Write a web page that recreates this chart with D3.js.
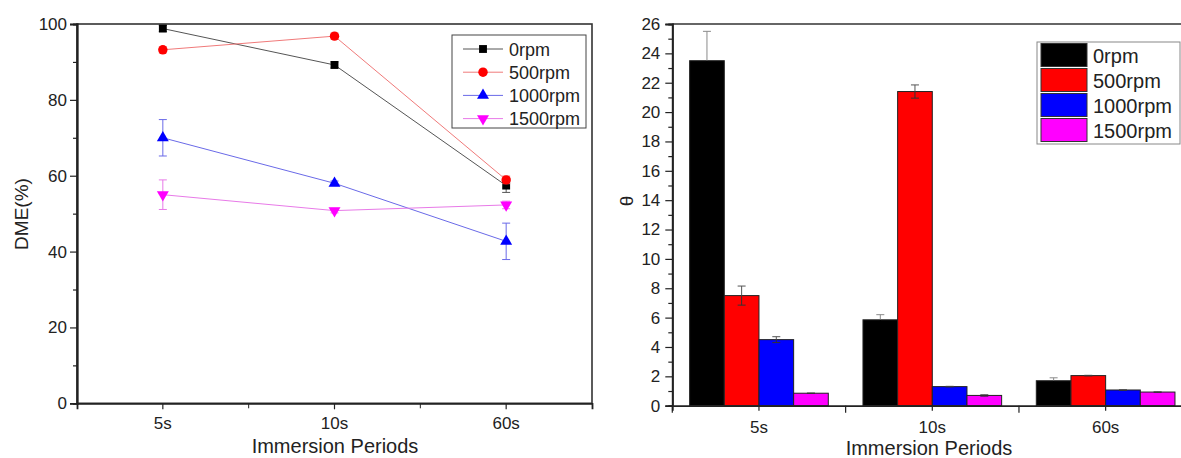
<!DOCTYPE html>
<html lang="en">
<head>
<meta charset="utf-8">
<title>DME and theta vs immersion periods</title>
<script src="https://d3js.org/d3.v7.min.js"></script>
<style>
  body { margin: 0; background: #fff; }
  svg text { font-family: "Liberation Sans", Arial, sans-serif; fill: #222; }
</style>
</head>
<body>
<script>
// categories
var periods = ["5s", "10s", "60s"];
var speeds = ["0rpm", "500rpm", "1000rpm", "1500rpm"];

// left chart: DME(%) with error
var dme0 = [98.8, 89.2, 57.4];
var dme500 = [93.2, 96.8, 58.9];
var dme1000 = [70.0, 58.0, 42.7];
var dme1500 = [55.0, 50.8, 52.3];
var dmeErr0 = [0.8, 0.8, 1.8];
var dmeErr500 = [0.8, 0.8, 1.0];
var dmeErr1000 = [4.8, 0.6, 4.8];
var dmeErr1500 = [3.9, 0.6, 1.0];

// right chart: theta with error
var theta0 = [23.5, 5.85, 1.7];
var theta500 = [7.5, 21.4, 2.05];
var theta1000 = [4.5, 1.3, 1.07];
var theta1500 = [0.85, 0.7, 0.93];
var thetaErr0 = [2.0, 0.35, 0.2];
var thetaErr500 = [0.65, 0.45, 0.02];
var thetaErr1000 = [0.2, 0.02, 0.02];
var thetaErr1500 = [0.02, 0.05, 0.02];

var dmeTicks = [0, 20, 40, 60, 80, 100];
var thetaTicks = [0, 2, 4, 6, 8, 10, 12, 14, 16, 18, 20, 22, 24, 26];

var W = 1181, H = 458;
var svg = d3.select("body").append("svg")
    .attr("width", W).attr("height", H);

// ---------------- left chart ----------------
var lineColors = ["#555", "#f07a7a", "#6a6ae8", "#e87ae8"];
var markColors = ["#000", "#ff0000", "#0000ff", "#ff00ff"];
var symbols = [d3.symbolSquare, d3.symbolCircle, d3.symbolTriangle, d3.symbolTriangle];

var dmeSeries = [dme0, dme500, dme1000, dme1500];
var dmeErrs = [dmeErr0, dmeErr500, dmeErr1000, dmeErr1500];

var xL = d3.scaleBand().domain(periods).range([77, 592]);
var yL = d3.scaleLinear().domain([0, 100]).range([403.3, 24]);

var left = svg.append("g");

// frame
left.append("rect")
    .attr("x", 77).attr("y", 24)
    .attr("width", 592 - 77).attr("height", 403.3 - 24)
    .attr("fill", "none").attr("stroke", "#333").attr("stroke-width", 1.6);

// y axis
var yAxisL = left.append("g").attr("transform", "translate(77,0)")
    .call(d3.axisLeft(yL).tickValues(dmeTicks).tickSize(7).tickPadding(3));
yAxisL.selectAll("text").style("font-size", "17px");
left.append("g").attr("transform", "translate(77,0)")
    .call(d3.axisLeft(yL).tickValues([10, 30, 50, 70, 90]).tickSize(4).tickFormat(""));

// x axis
var xAxisL = left.append("g").attr("transform", "translate(0,403.3)")
    .call(d3.axisBottom(xL).tickSize(6).tickPadding(8));
xAxisL.selectAll("text").style("font-size", "17px");
left.append("g").attr("transform", "translate(0,403.3)")
    .selectAll("line").data([1, 2]).enter().append("line")
    .attr("x1", function(d) { return 77 + d * xL.bandwidth(); })
    .attr("x2", function(d) { return 77 + d * xL.bandwidth(); })
    .attr("y1", 0).attr("y2", 5).attr("stroke", "#222");

left.selectAll(".domain").attr("stroke", "#222").attr("stroke-width", 1.8);
left.selectAll(".tick line").attr("stroke", "#222").attr("stroke-width", 1.2);

var cx = function(i) { return xL(periods[i]) + xL.bandwidth() / 2; };

dmeSeries.forEach(function(vals, s) {
    var g = left.append("g");
    var line = d3.line()
        .x(function(d, i) { return cx(i); })
        .y(function(d) { return yL(d); });
    g.append("path").datum(vals)
        .attr("d", line).attr("fill", "none")
        .attr("stroke", lineColors[s]).attr("stroke-width", 1);
    // error bars
    vals.forEach(function(v, i) {
        var e = dmeErrs[s][i];
        var x = cx(i);
        g.append("line").attr("x1", x).attr("x2", x)
            .attr("y1", yL(v + e)).attr("y2", yL(v - e))
            .attr("stroke", lineColors[s]).attr("stroke-width", 1);
        [v + e, v - e].forEach(function(t) {
            g.append("line").attr("x1", x - 4).attr("x2", x + 4)
                .attr("y1", yL(t)).attr("y2", yL(t))
                .attr("stroke", lineColors[s]).attr("stroke-width", 1);
        });
    });
    g.selectAll(".mk").data(vals).enter().append("path")
        .attr("d", d3.symbol().type(symbols[s]).size(s === 1 ? 70 : 62))
        .attr("transform", function(d, i) {
            return "translate(" + cx(i) + "," + yL(d) + ")" + (s === 3 ? " rotate(180)" : "");
        })
        .attr("fill", markColors[s]);
});

// legend left
var legL = left.append("g");
legL.append("rect").attr("x", 452).attr("y", 35).attr("width", 134).attr("height", 93)
    .attr("fill", "#fff").attr("stroke", "#444").attr("stroke-width", 1);
speeds.forEach(function(name, s) {
    var y = 49 + s * 23.2;
    legL.append("line").attr("x1", 463).attr("x2", 503).attr("y1", y).attr("y2", y)
        .attr("stroke", lineColors[s]).attr("stroke-width", 1);
    legL.append("path")
        .attr("d", d3.symbol().type(symbols[s]).size(s === 1 ? 70 : 62))
        .attr("transform", "translate(483," + y + ")" + (s === 3 ? " rotate(180)" : ""))
        .attr("fill", markColors[s]);
    legL.append("text").attr("x", 509).attr("y", y + 6.5)
        .style("font-size", "18px").text(name);
});

left.append("text")
    .attr("transform", "translate(28,214) rotate(-90)")
    .attr("text-anchor", "middle").style("font-size", "19px")
    .text("DME(%)");
left.append("text")
    .attr("x", 335).attr("y", 453)
    .attr("text-anchor", "middle").style("font-size", "20px")
    .text("Immersion Periods");

// ---------------- right chart ----------------
var barColors = ["#000000", "#ff0000", "#0000ff", "#ff00ff"];
var thetaSeries = [theta0, theta500, theta1000, theta1500];
var thetaErrs = [thetaErr0, thetaErr500, thetaErr1000, thetaErr1500];

var xR = d3.scaleBand().domain(periods).range([672.3, 1192.3]);
var inner = d3.scaleBand().domain(speeds)
    .range([0.1 * xR.bandwidth(), 0.9 * xR.bandwidth()]);
var yR = d3.scaleLinear().domain([0, 26]).range([405.7, 24]);

var right = svg.append("g");

right.append("line").attr("x1", 672.3).attr("x2", 1192).attr("y1", 24).attr("y2", 24)
    .attr("stroke", "#333").attr("stroke-width", 1.6);

thetaSeries.forEach(function(vals, s) {
    right.selectAll(".bar" + s).data(vals).enter().append("rect")
        .attr("x", function(d, i) { return xR(periods[i]) + inner(speeds[s]); })
        .attr("y", function(d) { return yR(d); })
        .attr("width", inner.bandwidth())
        .attr("height", function(d) { return yR(0) - yR(d); })
        .attr("fill", barColors[s])
        .attr("stroke", "#222").attr("stroke-width", 1);
});
// error bars: the part above a bar is grey, the part inside is dark
thetaSeries.forEach(function(vals, s) {
    vals.forEach(function(v, i) {
        var e = thetaErrs[s][i];
        var x = xR(periods[i]) + inner(speeds[s]) + inner.bandwidth() / 2;
        var up = s === 0 ? "#8a8a8a" : "#555";
        var down = s === 0 ? "#000" : "#333";
        right.append("line").attr("x1", x).attr("x2", x)
            .attr("y1", yR(v + e)).attr("y2", yR(v))
            .attr("stroke", up).attr("stroke-width", 1);
        right.append("line").attr("x1", x).attr("x2", x)
            .attr("y1", yR(v)).attr("y2", yR(v - e))
            .attr("stroke", down).attr("stroke-width", 1);
        right.append("line").attr("x1", x - 4).attr("x2", x + 4)
            .attr("y1", yR(v + e)).attr("y2", yR(v + e))
            .attr("stroke", up).attr("stroke-width", 1);
        right.append("line").attr("x1", x - 4).attr("x2", x + 4)
            .attr("y1", yR(v - e)).attr("y2", yR(v - e))
            .attr("stroke", down).attr("stroke-width", 1);
    });
});

var yAxisR = right.append("g").attr("transform", "translate(672.3,0)")
    .call(d3.axisLeft(yR).tickValues(thetaTicks).tickSize(7).tickPadding(5));
yAxisR.selectAll("text").style("font-size", "17px");
right.append("g").attr("transform", "translate(672.3,0)")
    .call(d3.axisLeft(yR).tickValues([1, 3, 5, 7, 9, 11, 13, 15, 17, 19, 21, 23, 25])
        .tickSize(4).tickFormat(""));

var xAxisR = right.append("g").attr("transform", "translate(0,405.7)")
    .call(d3.axisBottom(xR).tickSize(5).tickPadding(10));
xAxisR.selectAll("text").style("font-size", "17px");
right.append("g").attr("transform", "translate(0,405.7)")
    .selectAll("line").data([0, 1, 2, 3]).enter().append("line")
    .attr("x1", function(d) { return 672.3 + d * xR.bandwidth(); })
    .attr("x2", function(d) { return 672.3 + d * xR.bandwidth(); })
    .attr("y1", 0).attr("y2", 7).attr("stroke", "#222").attr("stroke-width", 1.2);

right.selectAll(".domain").attr("stroke", "#222").attr("stroke-width", 1.8);
right.selectAll(".tick line").attr("stroke", "#222").attr("stroke-width", 1.2);

// legend right
var legR = right.append("g");
legR.append("rect").attr("x", 1037).attr("y", 42).attr("width", 143).attr("height", 102)
    .attr("fill", "#fff").attr("stroke", "#888").attr("stroke-width", 1);
speeds.forEach(function(name, s) {
    var y = 43.5 + s * 25;
    legR.append("rect").attr("x", 1041).attr("y", y).attr("width", 46).attr("height", 23)
        .attr("fill", barColors[s]).attr("stroke", "#333").attr("stroke-width", 1);
    legR.append("text").attr("x", 1093).attr("y", y + 19)
        .style("font-size", "20px").text(name);
});

right.append("text")
    .attr("transform", "translate(633,201) rotate(-90)")
    .attr("text-anchor", "middle").style("font-size", "19px")
    .text("θ");
right.append("text")
    .attr("x", 929).attr("y", 455)
    .attr("text-anchor", "middle").style("font-size", "20px")
    .text("Immersion Periods");
</script>
</body>
</html>
